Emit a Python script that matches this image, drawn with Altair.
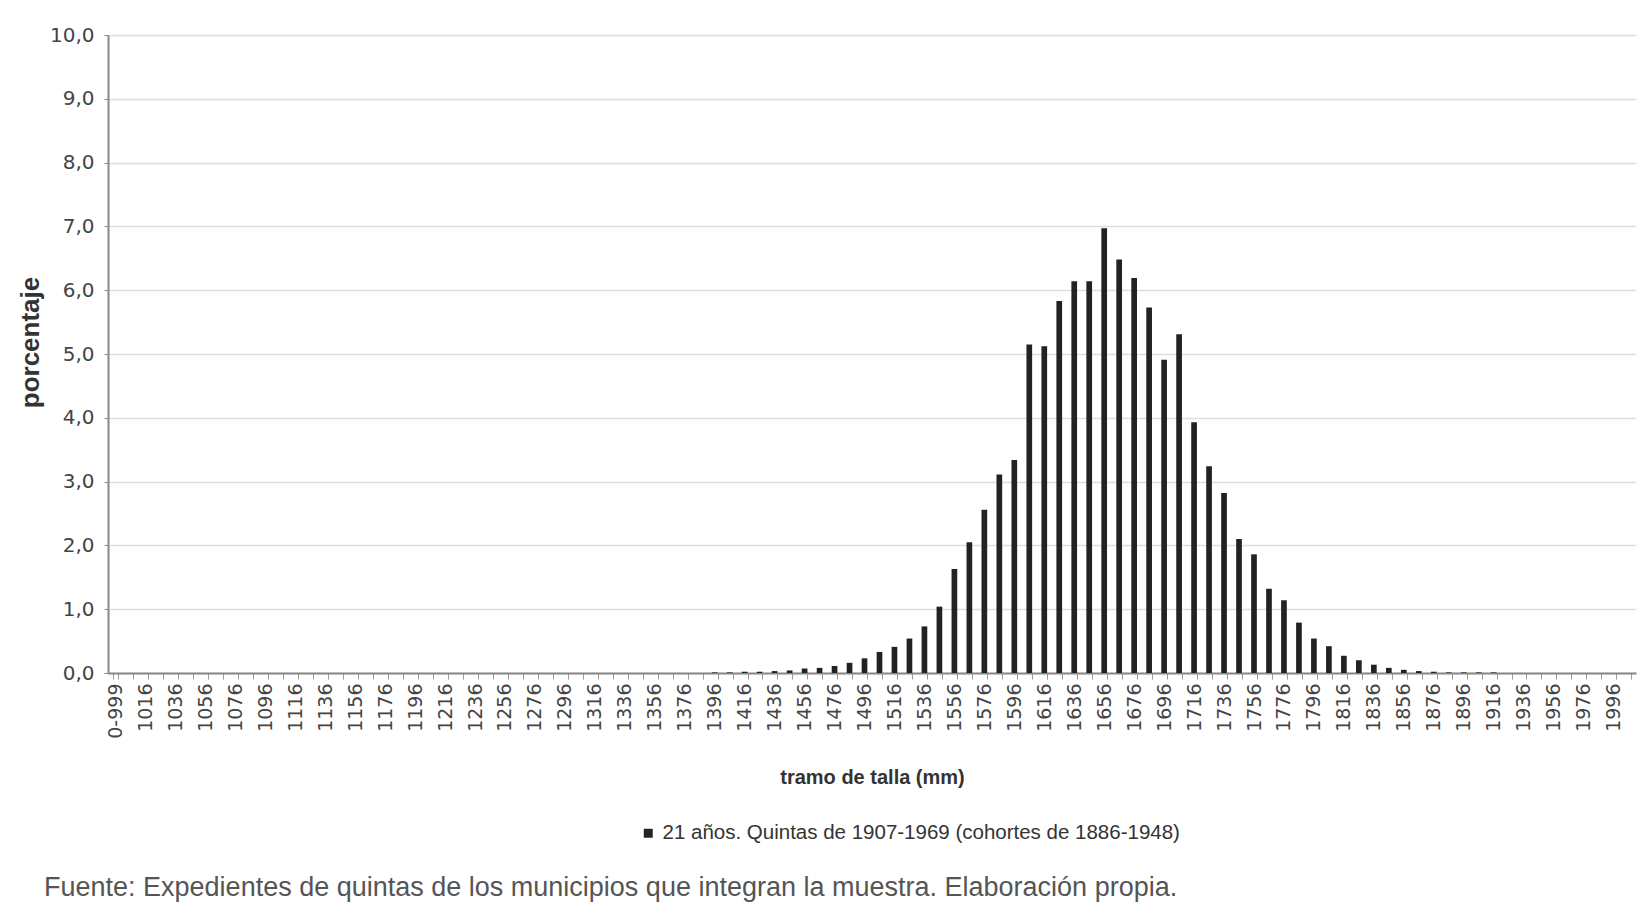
import altair as alt
import pandas as pd

# categories: first bin "0-999", then 10-mm bins labelled 1006 ... 2006
categories = ["0-999"] + [str(1006 + 10 * k) for k in range(101)]

# percentage per bin
values = (
    [0.0] * 40
    + [0.01, 0.01, 0.02, 0.02, 0.03, 0.04, 0.07, 0.08, 0.11, 0.16,
       0.23, 0.33, 0.41, 0.54, 0.73, 1.04, 1.63, 2.05, 2.56, 3.11,
       3.34, 5.15, 5.12, 5.83, 6.14, 6.14, 6.97, 6.48, 6.19, 5.73,
       4.91, 5.31, 3.93, 3.24, 2.82, 2.10, 1.86, 1.32, 1.14, 0.79,
       0.54, 0.42, 0.27, 0.20, 0.13, 0.08, 0.05, 0.03, 0.02, 0.01,
       0.01, 0.01, 0.01]
)
values = values + [0.0] * (len(categories) - len(values))

series_name = "21 años. Quintas de 1907-1969 (cohortes de 1886-1948)"
caption = "Fuente: Expedientes de quintas de los municipios que integran la muestra. Elaboración propia."

df = pd.DataFrame({"tramo": categories, "pct": values, "serie": series_name})

label_expr = ("datum.value == '0-999' || (toNumber(datum.value) - 1016) % 20 == 0 "
              "? datum.value : ''")

chart = alt.Chart(df).mark_bar(color="#222222").encode(
    x=alt.X(
        "tramo:N",
        sort=categories,
        scale=alt.Scale(paddingInner=0.62, paddingOuter=0.31),
        axis=alt.Axis(
            title="tramo de talla (mm)",
            labelAngle=270,
            labelExpr=label_expr,
            labelOverlap=False,
            labelFont="DejaVu Sans",
            labelFontSize=19,
            labelColor="#444444",
            labelPadding=4,
            tickBand="extent",
            tickSize=6,
            tickColor="#999999",
            domainColor="#888888",
            domainWidth=2,
            titleFontSize=20,
            titleFontWeight="bold",
            titleColor="#333333",
            titleY=94,
        ),
    ),
    y=alt.Y(
        "pct:Q",
        scale=alt.Scale(domain=[0, 10]),
        axis=alt.Axis(
            title="porcentaje",
            values=[0, 1, 2, 3, 4, 5, 6, 7, 8, 9, 10],
            labelExpr="replace(format(datum.value, '.1f'), '.', ',')",
            labelFont="DejaVu Sans",
            labelFontSize=20,
            labelColor="#444444",
            labelPadding=10,
            tickSize=4,
            tickColor="#888888",
            domainColor="#888888",
            domainWidth=2,
            gridColor="#dddddd",
            gridWidth=1.5,
            titleFontSize=26,
            titleFontWeight="bold",
            titleColor="#333333",
            titleX=-78,
            titleY=307,
            titleBaseline="middle",
        ),
    ),
    color=alt.Color(
        "serie:N",
        scale=alt.Scale(range=["#222222"]),
        legend=alt.Legend(
            title=None,
            orient="none",
            legendX=530,
            legendY=788,
            symbolType="square",
            symbolSize=80,
            labelFontSize=20.5,
            labelColor="#333333",
            labelLimit=900,
        ),
    ),
).properties(
    width=1528,
    height=638,
    autosize=alt.AutoSizeParams(type="none"),
    padding={"left": 100, "top": 27, "right": 6, "bottom": 234},
    title=alt.Title(
        text=caption,
        orient="bottom",
        anchor="start",
        frame="bounds",
        fontSize=27,
        fontWeight="normal",
        color="#555555",
        dx=27,
        offset=31,
    ),
).configure(
    font="Liberation Sans",
).configure_view(
    stroke=None,
)

chart.save("out.html", embed_options={"renderer": "svg", "actions": False})
